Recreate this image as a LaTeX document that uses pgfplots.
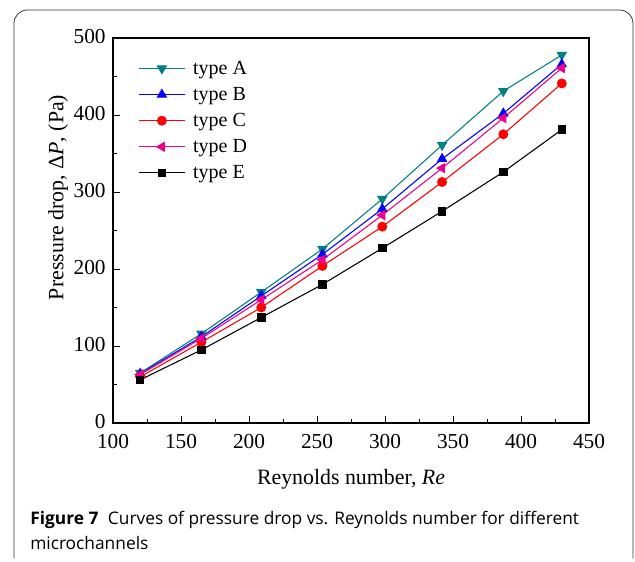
\documentclass[border=0pt]{standalone}
\usepackage{fontspec}
\setmainfont{Liberation Serif}
\newfontfamily\capfont{Open Sans}
\usepackage{pgfplots}
\pgfplotsset{compat=1.18}
\definecolor{tealA}{RGB}{0,128,128}
\begin{document}
\begin{tikzpicture}
\useasboundingbox (0,0) rectangle (476.25pt,420.75pt);
\draw[black!80, line width=0.6pt, rounded corners=10pt] (10.5pt,2pt) -- (10.5pt,413.25pt) -- (474.75pt,413.25pt) -- (474.75pt,2pt);
\begin{axis}[
  at={(84.75pt,103.5pt)}, anchor=south west,
  scale only axis, width=357pt, height=288.75pt,
  xmin=100, xmax=450, ymin=0, ymax=500,
  xtick={100,150,...,450}, ytick={0,100,...,500},
  minor x tick num=1, minor y tick num=1,
  tick align=inside, xtick pos=bottom, ytick pos=left,
  major tick length=5pt, minor tick length=3pt,
  axis line style={line width=0.9pt},
  tick style={line width=0.7pt, black},
  /pgf/number format/assume math mode=true,
  ticklabel style={font=\fontsize{16}{18}\selectfont},
  xticklabel style={yshift=-5pt},
  yticklabel style={xshift=-2pt, yshift=1pt},
  label style={font=\fontsize{16.4}{18}\selectfont},
  xlabel={Reynolds number, \textit{Re}},
  ylabel={Pressure drop, Δ\textit{P}, (Pa)},
  xlabel style={at={(axis description cs:0.5,-0.145)}, anchor=center},
  ylabel style={at={(axis description cs:-0.1155,0.586)}, anchor=center},
  legend style={draw=none, fill=none, at={(0.045,0.955)}, anchor=north west, font=\fontsize{15}{17}\selectfont, row sep=4.2pt},
  legend cell align=left,
  legend image code/.code={\draw[mark repeat=2, mark phase=2] plot coordinates {(0pt,0pt) (17pt,0pt) (34pt,0pt)}; \path (38pt,0pt);},
  every axis plot/.append style={line width=0.8pt},
]
\addplot[tealA, mark=triangle*, mark size=3.8pt, mark options={rotate=180}] coordinates {(120,65) (165,116) (209,170) (254,226) (298,291) (342,361) (387,431) (430,478)};
\addlegendentry{type A}
\addplot[blue, mark=triangle*, mark size=3.8pt] coordinates {(120,64) (165,112) (209,165) (254,219) (298,278) (342,343) (387,402) (430,466)};
\addlegendentry{type B}
\addplot[red, mark=*, mark size=3.3pt] coordinates {(120,60) (165,105) (209,150) (254,204) (298,255) (342,313) (387,375) (430,441)};
\addlegendentry{type C}
\addplot[magenta, mark=triangle*, mark size=3.8pt, mark options={rotate=90}] coordinates {(120,63) (165,110) (209,160) (254,212) (298,270) (342,331) (387,396) (430,461)};
\addlegendentry{type D}
\addplot[black, mark=square*, mark size=2.8pt] coordinates {(120,56) (165,95) (209,137) (254,180) (298,227) (342,275) (387,326) (430,381)};
\addlegendentry{type E}
\end{axis}
\node[anchor=base west, inner sep=0pt, font=\capfont\fontsize{13}{15}\selectfont] at (22.5pt,27.75pt) {\textbf{Figure 7}\hspace{0.55em}Curves of pressure drop vs. Reynolds number for different};
\node[anchor=base west, inner sep=0pt, font=\capfont\fontsize{13}{15}\selectfont] at (22.5pt,9pt) {microchannels};
\end{tikzpicture}
\end{document}
